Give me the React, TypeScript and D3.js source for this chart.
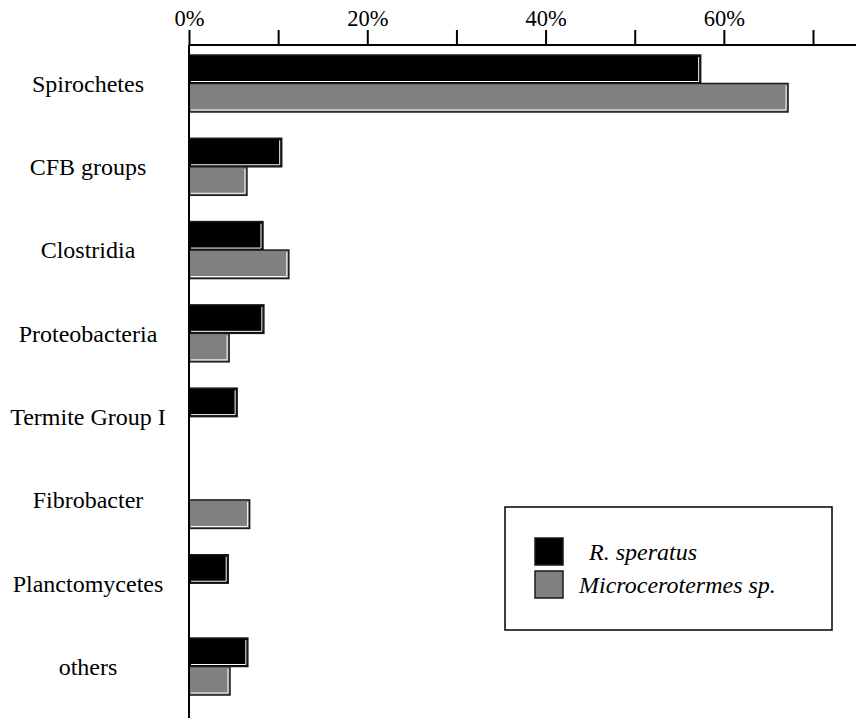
import { useRef, useEffect } from "react";
import * as d3 from "d3";

const categories = [
  "Spirochetes",
  "CFB groups",
  "Clostridia",
  "Proteobacteria",
  "Termite Group I",
  "Fibrobacter",
  "Planctomycetes",
  "others",
];
const series = ["R. speratus", "Microcerotermes sp."];
const speratus = [57.4, 10.4, 8.3, 8.4, 5.4, 0, 4.4, 6.6];
const microcerotermes = [67.2, 6.5, 11.2, 4.5, 0, 6.8, 0, 4.6];
const tickValues = [0, 10, 20, 30, 40, 50, 60, 70];
const tickLabels = ["0%", "", "20%", "", "40%", "", "60%", ""];

const COLORS = ["#000000", "#808080"];
const FONT = "'Liberation Serif', 'Times New Roman', serif";

export default function App() {
  const svgRef = useRef<SVGSVGElement>(null);

  useEffect(() => {
    if (!svgRef.current) return;
    const svg = d3.select(svgRef.current);
    svg.selectAll("*").remove();

    const width = 856;
    const height = 720;
    svg.attr("width", width).attr("height", height);

    const x = d3.scaleLinear().domain([0, 70]).range([189, 813]);
    const y = d3
      .scaleBand<string>()
      .domain(categories)
      .range([55, 695])
      .paddingInner(0.316)
      .paddingOuter(0);
    const ySub = d3
      .scaleBand<string>()
      .domain(series)
      .range([0, y.bandwidth()]);

    const rows = categories.map((c, i) => ({
      cat: c,
      vals: [speratus[i], microcerotermes[i]],
    }));

    // bars
    rows.forEach((r) => {
      r.vals.forEach((v, si) => {
        if (!v) return;
        const x0 = x(0);
        const x1 = x(v);
        const y0 = (y(r.cat) ?? 0) + (ySub(series[si]) ?? 0);
        const h = ySub.bandwidth();
        svg
          .append("rect")
          .attr("x", x0)
          .attr("y", y0)
          .attr("width", x1 - x0)
          .attr("height", h)
          .attr("fill", COLORS[si])
          .attr("stroke", "#1a1a1a")
          .attr("stroke-width", 1.5);
        // little white highlight along right / bottom edge
        svg
          .append("path")
          .attr("d", `M${x1 - 2},${y0 + 2}V${y0 + h - 2}H${x0 + 2}`)
          .attr("fill", "none")
          .attr("stroke", "#ffffff")
          .attr("stroke-width", 1);
      });
    });

    // top axis
    const axis = svg
      .append("g")
      .attr("transform", "translate(0,45)")
      .call(
        d3
          .axisTop(x)
          .tickValues(tickValues)
          .tickSize(15)
          .tickSizeOuter(0)
          .tickPadding(4)
          .tickFormat((_d, i) => tickLabels[i]),
      );
    axis.select(".domain").remove();
    axis.selectAll("line").attr("stroke", "#000").attr("stroke-width", 2);
    axis
      .selectAll("text")
      .attr("fill", "#000")
      .style("font-family", FONT)
      .style("font-size", "22.5px");

    svg
      .append("line")
      .attr("x1", x(0))
      .attr("x2", width)
      .attr("y1", 45)
      .attr("y2", 45)
      .attr("stroke", "#000")
      .attr("stroke-width", 2);
    svg
      .append("line")
      .attr("x1", x(0))
      .attr("x2", x(0))
      .attr("y1", 45)
      .attr("y2", 718)
      .attr("stroke", "#000")
      .attr("stroke-width", 2);

    // category labels
    svg
      .append("g")
      .selectAll("text")
      .data(categories)
      .join("text")
      .attr("x", 88)
      .attr("y", (d) => (y(d) ?? 0) + y.bandwidth() / 2)
      .attr("dy", "0.35em")
      .attr("text-anchor", "middle")
      .style("font-family", FONT)
      .style("font-size", "24px")
      .attr("fill", "#000")
      .text((d) => d);

    // legend
    const leg = svg.append("g").attr("transform", "translate(505,507)");
    leg
      .append("rect")
      .attr("width", 327)
      .attr("height", 123)
      .attr("fill", "#fff")
      .attr("stroke", "#000")
      .attr("stroke-width", 1.5);
    series.forEach((s, i) => {
      leg
        .append("rect")
        .attr("x", 30)
        .attr("y", 31 + i * 33)
        .attr("width", 28)
        .attr("height", 27)
        .attr("fill", COLORS[i])
        .attr("stroke", "#1a1a1a")
        .attr("stroke-width", 1.5);
      leg
        .append("text")
        .attr("x", i === 0 ? 84 : 74)
        .attr("y", 53 + i * 33)
        .style("font-family", FONT)
        .style("font-size", "24px")
        .style("font-style", "italic")
        .attr("fill", "#000")
        .text(s);
    });

    return () => {
      svg.selectAll("*").remove();
    };
  }, []);

  return (
    <div style={{ position: "absolute", left: 0, top: 0, background: "#fff" }}>
      <svg ref={svgRef} style={{ display: "block" }} />
    </div>
  );
}
